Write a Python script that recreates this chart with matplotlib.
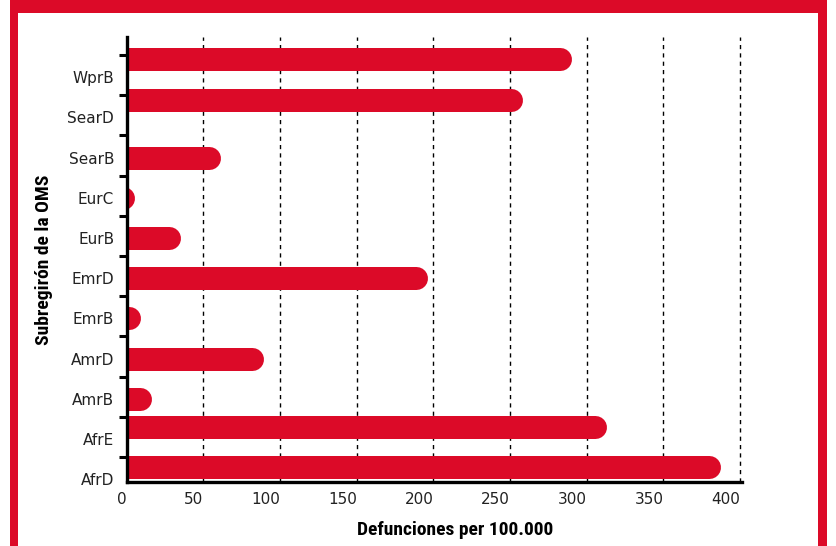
import matplotlib
matplotlib.use('Agg')
import matplotlib.pyplot as plt
from matplotlib.patches import Rectangle

# Data: deaths per 100,000 by WHO subregion (bottom to top)
regions = ['AfrD', 'AfrE', 'AmrB', 'AmrD', 'EmrB', 'EmrD',
           'EurB', 'EurC', 'SearB', 'SearD', 'WprB']
deaths = [387, 313, 16, 89, 9, 196, 35, 5, 61, 258, 290]
x_ticks = [0, 50, 100, 150, 200, 250, 300, 350, 400]

# vertical nudge of each bar relative to its label row
row_shift = [0.31, 0.31, 0, 0, 0, 0, 0, 0, 0, 0.43, 0.46]

RED = '#dc0a28'
W, H, DPI = 837, 546, 100
bar_px = 23  # bar thickness in pixels

fig = plt.figure(figsize=(W / DPI, H / DPI), dpi=DPI, facecolor='white')

# red frame around the panel
for (x0, y0, w, h) in [(10, 0, 8, 546), (818, 0, 9, 546), (10, 0, 817, 13)]:
    fig.patches.append(Rectangle((x0 / W, 1 - (y0 + h) / H), w / W, h / H,
                                 transform=fig.transFigure, color=RED,
                                 lw=0, zorder=0))

ax = fig.add_axes([126.7 / W, 1 - 482 / H, 613.3 / W, 445 / H])
ax.set_xlim(0, 400)
ax.set_ylim(-0.07, 11.0)

# bars as thick round-capped lines so the right end is rounded
px_per_unit = (ax.transData.transform((1, 0))[0] - ax.transData.transform((0, 0))[0])
r = (bar_px / 2) / px_per_unit
lw = bar_px * 72 / DPI
for i, (v, s) in enumerate(zip(deaths, row_shift)):
    ax.plot([-r, v - r], [i + s, i + s], color=RED, lw=lw,
            solid_capstyle='round', zorder=2)

# dashed vertical grid
for t in x_ticks[1:]:
    ax.axvline(t, color='black', lw=1, ls=(0, (3, 3)), zorder=1, clip_on=False)

ax.set_xticks(x_ticks)
ax.set_xticklabels([str(t) for t in x_ticks], ha='right')
ax.set_yticks(range(len(regions)))
ax.set_yticklabels(regions)
ax.set_yticks([i + 0.55 for i in range(len(regions))], minor=True)

ax.tick_params(axis='x', length=0, pad=7, labelsize=11, labelcolor='#222222')
ax.tick_params(axis='y', which='major', length=0, pad=9, labelsize=11,
               labelcolor='#222222')
ax.tick_params(axis='y', which='minor', length=6, width=2.2, direction='out')

for side in ['top', 'right']:
    ax.spines[side].set_visible(False)
for side in ['left', 'bottom']:
    ax.spines[side].set_linewidth(2.4)
    ax.spines[side].set_zorder(3)
ax.spines['bottom'].set_bounds(0, 401)

bold = dict(family=['Roboto Condensed', 'Liberation Sans Narrow', 'DejaVu Sans'],
            fontweight='bold', fontstretch='condensed', fontsize=14)
ax.set_xlabel('Defunciones per 100.000', **bold)
ax.set_ylabel('Subregirón de la OMS', **bold)
ax.xaxis.set_label_coords(0.535, -0.108)
ax.yaxis.set_label_coords(-0.135, 0.5)
ax.xaxis.label.set_va('center')
ax.yaxis.label.set_va('center')

fig.savefig('out.png', dpi=DPI, facecolor='white')
